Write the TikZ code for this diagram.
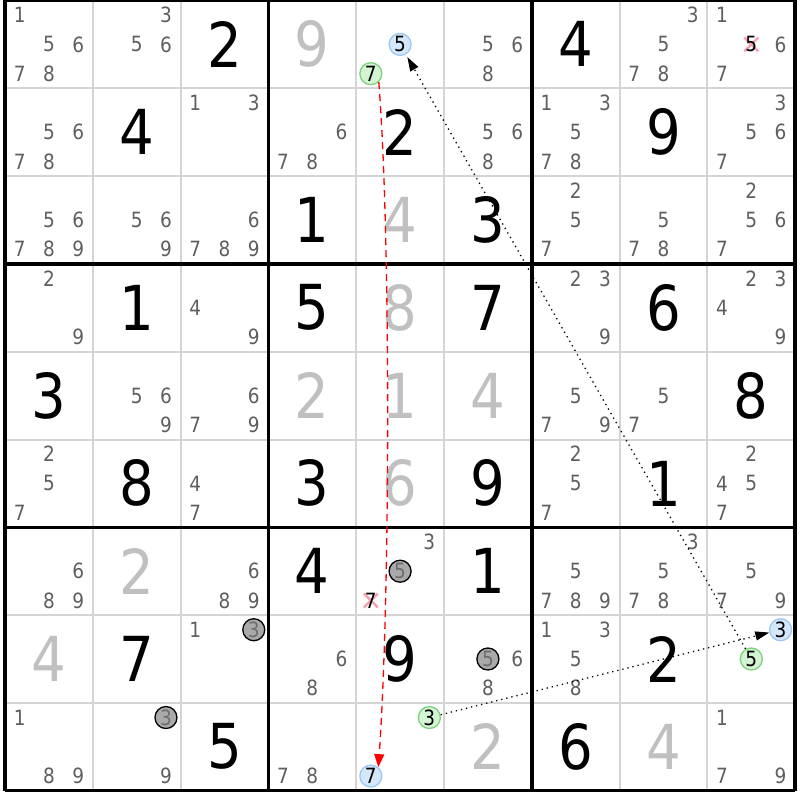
\documentclass[tikz,border=0pt]{standalone}
\usepackage{fontspec}
\usepackage{tikz}
\usetikzlibrary{arrows.meta,positioning,calc}
\newfontfamily\cellfont{DejaVu Sans}[FakeStretch=0.88]
\newcommand{\bigsize}{\cellfont\fontsize{62}{62}\selectfont}
\newcommand{\smallsize}{\cellfont\fontsize{21}{21}\selectfont}
\newcommand{\setcand}[3]{%
  \pgfmathsetmacro{\px}{19.63+87.8*#2+29.27*mod(#3-1,3)}%
  \pgfmathsetmacro{\py}{15.13+87.8*#1+29.27*int((#3-1)/3)}}
\definecolor{candgrey}{HTML}{5F5F5F}
\definecolor{solvedgrey}{HTML}{C0C0C0}
\definecolor{gridgrey}{HTML}{D4D4D4}
\definecolor{bluefill}{HTML}{D5E8FB}
\definecolor{blueline}{HTML}{9CC7F2}
\definecolor{greenfill}{HTML}{D4F4D4}
\definecolor{greenline}{HTML}{7CD37C}
\definecolor{greyfill}{HTML}{A9A9A9}
\definecolor{greytext}{HTML}{6E6E6E}
\definecolor{crosspink}{HTML}{F4A2B2}
\tikzset{
  given/.style={font=\bigsize, text=black, inner sep=0pt},
  solved/.style={font=\bigsize, text=solvedgrey, inner sep=0pt},
  cand/.style={font=\smallsize, text=candgrey, inner sep=0pt},
  elim/.style={cand, text=black},
  markcircle/.style={circle, inner sep=0pt, minimum size=22pt, line width=1.3pt, font=\smallsize},
  bluecand/.style={markcircle, draw=blueline, fill=bluefill, text=black},
  greencand/.style={markcircle, draw=greenline, fill=greenfill, text=black},
  greycand/.style={markcircle, draw=black, fill=greyfill, text=greytext},
  crossline/.style={draw=crosspink, line width=2.4pt},
  thinrule/.style={draw=gridgrey, line width=2pt},
  thickrule/.style={draw=black, line width=3.5pt},
  redlink/.style={draw=red, line width=1.3pt, dash pattern=on 7pt off 5pt, -{Triangle[length=13pt,width=10pt]}},
  dotlink/.style={draw=black, line width=1.3pt, dash pattern=on 1.3pt off 3.9pt, -{Triangle[length=14pt,width=9pt]}}
}
\begin{document}
\begin{tikzpicture}[x=1pt,y=-1pt]
        \useasboundingbox (0,0) rectangle (800,800);
        \fill[white] (0,0) rectangle (800,800);
        \foreach \i in {1,2,4,5,7,8} {
          \draw[thinrule] ({5+87.8*\i},0.5) -- ({5+87.8*\i},790.7);
          \draw[thinrule] (5,{0.5+87.8*\i}) -- (795.2,{0.5+87.8*\i});
        }
        \foreach \i in {0,3,6,9} {
          \draw[thickrule] ({5+87.8*\i},0.5) -- ({5+87.8*\i},790.7);
          \draw[thickrule] (5,{0.5+87.8*\i}) -- (795.2,{0.5+87.8*\i});
        }
        \foreach \r/\c/\v in {0/2/2, 0/6/4, 1/1/4, 1/4/2, 1/7/9, 2/3/1, 2/5/3,
            3/1/1, 3/3/5, 3/5/7, 3/7/6, 4/0/3, 4/8/8, 5/1/8, 5/3/3, 5/5/9, 5/7/1,
            6/3/4, 6/5/1, 7/1/7, 7/4/9, 7/7/2, 8/2/5, 8/6/6}
          \node[given] (v\r\c) at ({48.9+87.8*\c},{44.4+87.8*\r}) {\v};
        \foreach \r/\c/\v in {0/3/9, 2/4/4, 3/4/8, 4/3/2, 4/4/1, 4/5/4, 5/4/6,
            6/1/2, 7/0/4, 8/5/2, 8/7/4}
          \node[solved] (s\r\c) at ({48.9+87.8*\c},{44.4+87.8*\r}) {\v};
        \foreach \r/\c/\L in {0/0/{1,5,6,7,8}, 0/1/{3,5,6}, 0/5/{5,6,8}, 0/7/{3,5,7,8}, 0/8/{1,6,7},
            1/0/{5,6,7,8}, 1/2/{1,3}, 1/3/{6,7,8}, 1/5/{5,6,8}, 1/6/{1,3,5,7,8}, 1/8/{3,5,6,7},
            2/0/{5,6,7,8,9}, 2/1/{5,6,9}, 2/2/{6,7,8,9}, 2/6/{2,5,7}, 2/7/{5,7,8}, 2/8/{2,5,6,7},
            3/0/{2,9}, 3/2/{4,9}, 3/6/{2,3,9}, 3/8/{2,3,4,9},
            4/1/{5,6,9}, 4/2/{6,7,9}, 4/6/{5,7,9}, 4/7/{5,7},
            5/0/{2,5,7}, 5/2/{4,7}, 5/6/{2,5,7}, 5/8/{2,4,5,7},
            6/0/{6,8,9}, 6/2/{6,8,9}, 6/4/{3}, 6/6/{5,7,8,9}, 6/7/{3,5,7,8}, 6/8/{5,7,9},
            7/2/{1}, 7/3/{6,8}, 7/5/{6,8}, 7/6/{1,3,5,8},
            8/0/{1,8,9}, 8/1/{9}, 8/3/{7,8}, 8/8/{1,7,9}} {
          \foreach \d in \L {
            \setcand{\r}{\c}{\d}
            \node[cand] (n\r\c\d) at (\px,\py) {\d};
          }
        }
        \setcand{0}{8}{5}
        \coordinate (x085) at (\px,\py);
        \draw[crossline] ($(x085)+(-7,-7)$) -- ($(x085)+(7,7)$);
        \draw[crossline] ($(x085)+(-7,7)$) -- ($(x085)+(7,-7)$);
        \node[elim] (e085) at (x085) {5};
        \setcand{6}{4}{7}
        \coordinate (x647) at (\px,\py);
        \draw[crossline] ($(x647)+(-7,-7)$) -- ($(x647)+(7,7)$);
        \draw[crossline] ($(x647)+(-7,7)$) -- ($(x647)+(7,-7)$);
        \node[elim] (e647) at (x647) {7};
        \setcand{6}{4}{5}
        \node[greycand] (k645) at (\px,\py) {5};
        \setcand{7}{2}{3}
        \node[greycand] (k723) at (\px,\py) {3};
        \setcand{7}{5}{5}
        \node[greycand] (k755) at (\px,\py) {5};
        \setcand{8}{1}{3}
        \node[greycand] (k813) at (\px,\py) {3};
        \setcand{0}{4}{5}
        \node[bluecand] (b045) at (\px,\py) {5};
        \setcand{0}{4}{7}
        \node[greencand] (g047) at (\px,\py) {7};
        \setcand{7}{8}{3}
        \node[bluecand] (b783) at (\px,\py) {3};
        \setcand{7}{8}{5}
        \node[greencand] (g785) at (\px,\py) {5};
        \setcand{8}{4}{3}
        \node[greencand] (g843) at (\px,\py) {3};
        \setcand{8}{4}{7}
        \node[bluecand] (b847) at (\px,\py) {7};
        \draw[redlink] (g047.-47) .. controls +(12,150) and +(12,-170) .. (b847.50);
        \draw[dotlink] (g843) -- (b783);
        \draw[dotlink, shorten >=3pt] (g785) -- (b045);
      \end{tikzpicture}
\end{document}
